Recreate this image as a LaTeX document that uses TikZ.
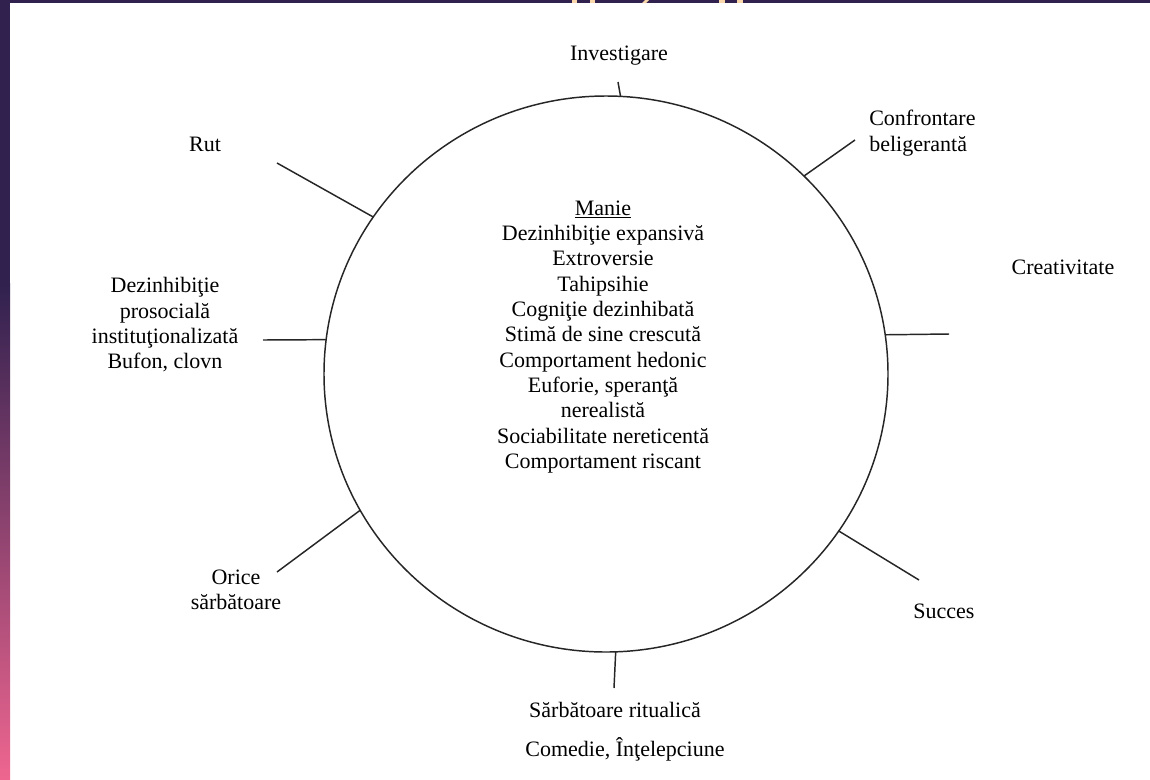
\documentclass[tikz,border=0pt]{standalone}
\usepackage{fontspec}
\setmainfont{Liberation Serif}
\usetikzlibrary{shapes.geometric}
\definecolor{barpurple}{HTML}{30214F}
\definecolor{barpink}{HTML}{EE6690}
\definecolor{peach}{HTML}{FAD7AA}
\definecolor{inkline}{HTML}{262626}
\begin{document}
\begin{tikzpicture}[x=0.75pt,y=-0.75pt,
  lbl/.style={font=\fontsize{16.5}{19}\selectfont, align=center, inner sep=0pt, text=black},
  spoke/.style={draw=inkline, line width=1.1pt},
]
\useasboundingbox (0,0) rectangle (1150,779);
\fill[white] (0,0) rectangle (1150,779);
% frame bars
\fill[barpurple] (0,0) rectangle (1150,3);
\fill[barpurple] (0,0) rectangle (10,283);
\shade[top color=barpurple, bottom color=barpink] (0,283) rectangle (10,779);
% peach fragments at the top edge
\fill[peach] (572,0) rectangle (577,3);
\fill[peach] (590,0) rectangle (595,3);
\fill[peach] (642,3) -- (646,3) -- (649,0) -- (645,0) -- cycle;
\fill[peach] (719,0) rectangle (725,3);
\fill[peach] (737,0) rectangle (743,3);
% ring
\node[ellipse, draw=inkline, line width=1.1pt, minimum width=423pt, minimum height=417pt,
      inner sep=0pt, outer sep=0pt] (ring) at (606,374) {};
% outer ends of spokes
\coordinate (eInv) at (618,82);
\coordinate (eConf) at (855,140);
\coordinate (eCreat) at (949,334);
\coordinate (eSucc) at (919,580);
\coordinate (eSarb) at (614,688);
\coordinate (eOrice) at (277,572);
\coordinate (eDez) at (263,340);
\coordinate (eRut) at (277,163);
\draw[spoke] (ring.87.5) -- (eInv);
\draw[spoke] (ring.45) -- (eConf);
\draw[spoke] (ring.8.3) -- (eCreat);
\draw[spoke] (ring.-34.4) -- (eSucc);
\draw[spoke] (ring.-88.4) -- (eSarb);
\draw[spoke] (ring.-151.7) -- (eOrice);
\draw[spoke] (ring.173.1) -- (eDez);
\draw[spoke] (ring.146.7) -- (eRut);
% labels
\node[lbl] (inv) at (619,56) {Investigare};
\node[lbl, align=left, anchor=west] (conf) at (869,133) {Confrontare\\beligerantă};
\node[lbl] (creat) at (1063,267) {Creativitate};
\node[lbl] (rut) at (205,144) {Rut};
\node[lbl] (dez) at (165,325) {Dezinhibiţie\\prosocială\\instituţionalizată\\Bufon, clovn};
\node[lbl] (orice) at (236,590) {Orice\\sărbătoare};
\node[lbl] (succ) at (944,611) {Succes};
\node[lbl] (sarb) at (615,710) {Sărbătoare ritualică};
\node[lbl] (com) at (625,749) {Comedie, Înţelepciune};
\node[lbl] (manie) at (603,337) {\underline{Manie}\\Dezinhibiţie expansivă\\Extroversie\\Tahipsihie\\Cogniţie dezinhibată\\Stimă de sine crescută\\Comportament hedonic\\Euforie, speranţă\\nerealistă\\Sociabilitate nereticentă\\Comportament riscant};
\end{tikzpicture}
\end{document}
